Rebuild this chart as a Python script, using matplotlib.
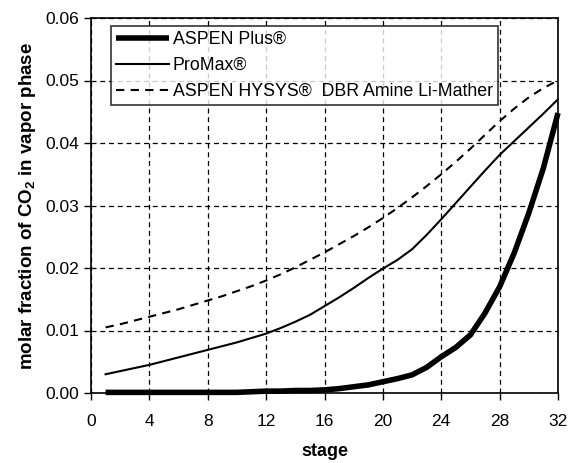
import matplotlib
matplotlib.use('Agg')
import matplotlib.pyplot as plt

plt.rcParams['font.family'] = 'Liberation Sans'
plt.rcParams['mathtext.fontset'] = 'custom'
plt.rcParams['mathtext.rm'] = 'Liberation Sans'
plt.rcParams['mathtext.bf'] = 'Liberation Sans:bold'

# stage numbers and CO2 mole fraction in vapour
stages = list(range(1, 33))
aspen_plus = [0.0001, 0.0001, 0.0001, 0.0001, 0.0001, 0.0001, 0.0001, 0.0001,
              0.0001, 0.0001, 0.0002, 0.0003, 0.0003, 0.0004, 0.0004, 0.0005,
              0.0007, 0.0010, 0.0013, 0.0018, 0.0023, 0.0029, 0.0041, 0.0058,
              0.0073, 0.0093, 0.0128, 0.0170, 0.0224, 0.0288, 0.0360, 0.0448]
promax = [0.0030, 0.0035, 0.0040, 0.0045, 0.0051, 0.0057, 0.0063, 0.0069,
          0.0075, 0.0081, 0.0088, 0.0095, 0.0104, 0.0114, 0.0125, 0.0139,
          0.0153, 0.0168, 0.0184, 0.0199, 0.0213, 0.0230, 0.0253, 0.0278,
          0.0304, 0.0330, 0.0356, 0.0381, 0.0403, 0.0425, 0.0447, 0.0470]
hysys = [0.0105, 0.0110, 0.0116, 0.0122, 0.0128, 0.0134, 0.0141, 0.0148,
         0.0155, 0.0163, 0.0171, 0.0180, 0.0190, 0.0201, 0.0213, 0.0225,
         0.0238, 0.0251, 0.0265, 0.0280, 0.0296, 0.0313, 0.0331, 0.0350,
         0.0370, 0.0391, 0.0413, 0.0435, 0.0455, 0.0473, 0.0488, 0.0500]

xticks = [0, 4, 8, 12, 16, 20, 24, 28, 32]
yticks = [0.00, 0.01, 0.02, 0.03, 0.04, 0.05, 0.06]

fig = plt.figure(figsize=(5.69, 4.63), dpi=100)
ax = fig.add_axes([91/569, 70/463, 467/569, 375/463])

ax.plot(stages, aspen_plus, color='k', lw=4.0, solid_capstyle='butt',
        label='ASPEN Plus®', clip_on=False, zorder=5)
ax.plot(stages, promax, color='k', lw=1.5, label='ProMax®', zorder=5)
ax.plot(stages, hysys, color='k', lw=1.5, ls=(0, (4, 3)),
        label='ASPEN HYSYS®  DBR Amine Li-Mather', zorder=5)

ax.set_xlim(0, 32)
ax.set_ylim(0, 0.06)
ax.set_xticks(xticks)
ax.set_yticks(yticks)
ax.set_yticklabels(['%.2f' % v for v in yticks])
ax.tick_params(direction='out', length=5, width=1, labelsize=12.5, colors='k')
ax.tick_params(axis='x', pad=10)
ax.grid(True, color='k', ls=(0, (4, 3)), lw=0.9)
for s in ax.spines.values():
    s.set_linewidth(1.2)

ax.set_xlabel('stage', fontsize=13, fontweight='bold', labelpad=10)
ax.set_ylabel(r'molar fraction of CO$_\mathbf{2}$ in vapor phase',
              fontsize=13.5, fontweight='bold', labelpad=5)

leg = ax.legend(loc='upper left', bbox_to_anchor=(0.042, 0.979),
                fontsize=12.8, frameon=True, fancybox=False, edgecolor='k',
                handlelength=3.0, handletextpad=0.2, borderpad=0.3,
                labelspacing=0.5, borderaxespad=0)
leg.get_frame().set_linewidth(1.2)
leg.set_zorder(10)

plt.savefig('out.png', dpi=100)
